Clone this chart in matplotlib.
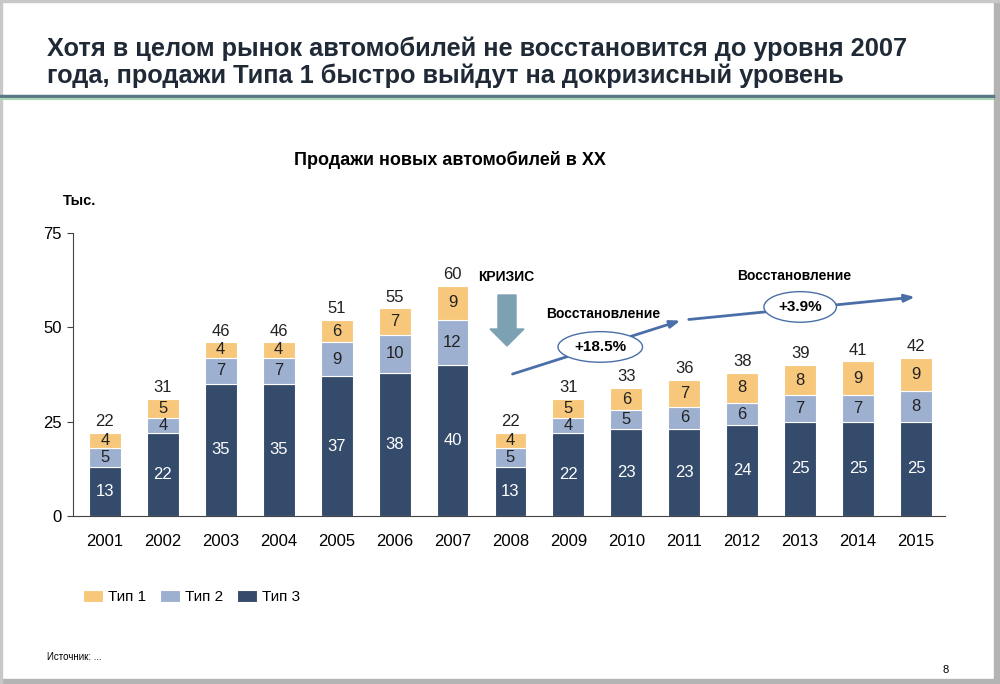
import matplotlib
matplotlib.use("Agg")
import matplotlib.pyplot as plt
import matplotlib.patches as mpatches
import numpy as np

# ---------------- DATA ----------------
years = ["2001", "2002", "2003", "2004", "2005", "2006", "2007", "2008",
         "2009", "2010", "2011", "2012", "2013", "2014", "2015"]
tip3 = [13, 22, 35, 35, 37, 38, 40, 13, 22, 23, 23, 24, 25, 25, 25]
tip2 = [5, 4, 7, 7, 9, 10, 12, 5, 4, 5, 6, 6, 7, 7, 8]
tip1 = [4, 5, 4, 4, 6, 7, 9, 4, 5, 6, 7, 8, 8, 9, 9]
totals = [22, 31, 46, 46, 51, 55, 60, 22, 31, 33, 36, 38, 39, 41, 42]
yticks = [0, 25, 50, 75]

C1, C2, C3 = "#F7C87C", "#9DB0D0", "#344B6C"
LINE = "#4A6FA8"

plt.rcParams['font.family'] = ['Liberation Sans', 'DejaVu Sans']

fig = plt.figure(figsize=(10, 6.84), dpi=100)
ax = fig.add_axes([0.073, 0.2456, 0.872, 0.4138])

x = np.arange(len(years))
w = 0.55
b3 = ax.bar(x, tip3, w, color=C3, edgecolor="white", linewidth=0.8, label="Тип 3")
b2 = ax.bar(x, tip2, w, bottom=tip3, color=C2, edgecolor="white", linewidth=0.8, label="Тип 2")
bot1 = np.array(tip3) + np.array(tip2)
b1 = ax.bar(x, tip1, w, bottom=bot1, color=C1, edgecolor="white", linewidth=0.8, label="Тип 1")

FS = 12
for i in range(len(years)):
    ax.text(x[i], tip3[i] / 2, str(tip3[i]), ha="center", va="center", color="white", fontsize=FS)
    ax.text(x[i], tip3[i] + tip2[i] / 2, str(tip2[i]), ha="center", va="center", color="#222222", fontsize=FS)
    ax.text(x[i], bot1[i] + tip1[i] / 2, str(tip1[i]), ha="center", va="center", color="#222222", fontsize=FS)
    ax.text(x[i], bot1[i] + tip1[i] + 1.0, str(totals[i]), ha="center", va="bottom", color="#222222", fontsize=FS)

ax.set_xlim(-0.55, 14.5)
ax.set_ylim(0, 75)
ax.set_yticks(yticks)
ax.set_xticks(x)
ax.set_xticklabels(years, fontsize=FS)
ax.tick_params(axis="x", length=0, pad=13)
ax.tick_params(axis="y", length=4, labelsize=FS, color="#444444", pad=4)
for s in ["top", "right"]:
    ax.spines[s].set_visible(False)
ax.spines["left"].set_color("#444444")
ax.spines["bottom"].set_color("#444444")
ax.patch.set_alpha(0)

# annotations
ax.annotate("", xy=(9.98, 52.0), xytext=(6.99, 37.4),
            arrowprops=dict(arrowstyle="-|>,head_length=0.6,head_width=0.22", color=LINE, lw=2))
ax.annotate("", xy=(14.03, 58.1), xytext=(10.03, 52.0),
            arrowprops=dict(arrowstyle="-|>,head_length=0.6,head_width=0.22", color=LINE, lw=2))
ax.text(8.55, 44.8, "+18.5%", ha="center", va="center", fontsize=11, fontweight="bold",
        bbox=dict(boxstyle="ellipse,pad=0.25", fc="white", ec=LINE, lw=1))
ax.text(12.0, 55.4, "+3.9%", ha="center", va="center", fontsize=11, fontweight="bold",
        bbox=dict(boxstyle="ellipse,pad=0.25", fc="white", ec=LINE, lw=1))
ax.text(8.6, 53.5, "Восстановление", ha="center", va="center", fontsize=10, fontweight="bold")
ax.text(11.9, 63.7, "Восстановление", ha="center", va="center", fontsize=10, fontweight="bold")
ax.text(6.93, 63.3, "КРИЗИС", ha="center", va="center", fontsize=10, fontweight="bold")

# crisis arrow (inches from bottom-left)
fig.patches.append(mpatches.FancyArrow(5.07, 6.84 - 2.95, 0, -0.34, width=0.18, head_width=0.34,
                                       head_length=0.17, length_includes_head=False,
                                       color="#7BA1B2", transform=fig.dpi_scale_trans))

# titles and texts
fig.text(0.047, 1 - 56 / 684, "Хотя в целом рынок автомобилей не восстановится до уровня 2007",
         ha="left", va="baseline", fontsize=18.3, fontweight="bold", color="#1F2A36")
fig.text(0.047, 1 - 83 / 684, "года, продажи Типа 1 быстро выйдут на докризисный уровень",
         ha="left", va="baseline", fontsize=18.3, fontweight="bold", color="#1F2A36")
fig.text(0.45, 1 - 160 / 684, "Продажи новых автомобилей в XX", ha="center", va="center",
         fontsize=13, fontweight="bold")
fig.text(0.063, 1 - 201 / 684, "Тыс.", ha="left", va="center", fontsize=10.5, fontweight="bold")
fig.text(0.047, 1 - 657 / 684, "Источник: ...", ha="left", va="center", fontsize=7)
fig.text(0.946, 1 - 670 / 684, "8", ha="center", va="center", fontsize=8)

leg = fig.legend(handles=[b1, b2, b3], loc="center left", bbox_to_anchor=(0.083, 1 - 597 / 684),
                 ncol=3, frameon=False, handlelength=1.3, handleheight=0.85,
                 columnspacing=0.9, handletextpad=0.35, borderpad=0, borderaxespad=0,
                 prop={'size': 11})

# title rule
fig.add_artist(plt.Line2D([0, 0.993], [1 - 95.5 / 684] * 2, color="#5A7888", lw=2.5))
fig.add_artist(plt.Line2D([0, 0.993], [1 - 98.5 / 684] * 2, color="#A8D7B4", lw=1.5))

# slide frame
fig.add_artist(mpatches.Rectangle((0.9935, 0), 0.0065, 1, transform=fig.transFigure, color="#B4B4B4"))
fig.add_artist(mpatches.Rectangle((0, 0), 1, 0.007, transform=fig.transFigure, color="#B4B4B4"))
fig.add_artist(mpatches.Rectangle((0, 0.997), 1, 0.003, transform=fig.transFigure, color="#C8C8C8"))
fig.add_artist(mpatches.Rectangle((0, 0), 0.002, 1, transform=fig.transFigure, color="#C8C8C8"))

fig.savefig("out.png", dpi=100)
